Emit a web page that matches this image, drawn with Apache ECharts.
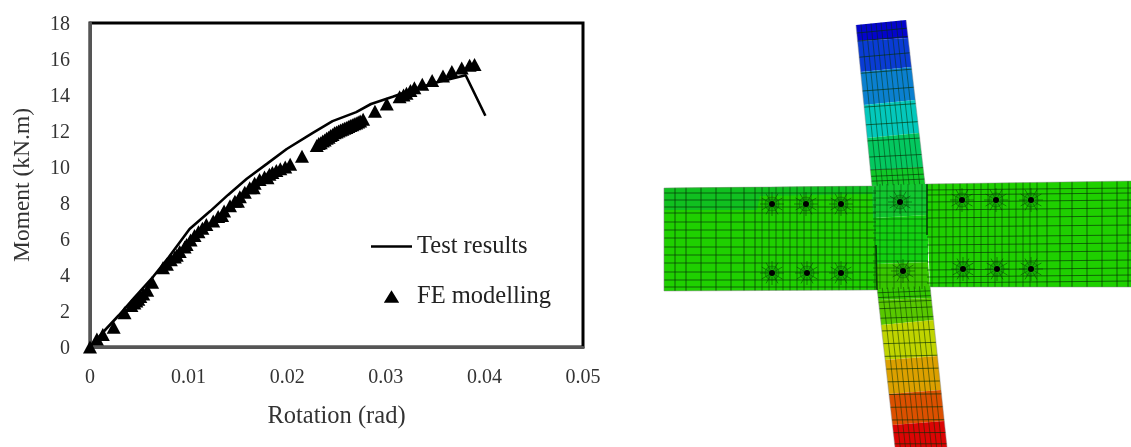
<!DOCTYPE html>
<html><head><meta charset="utf-8">
<style>html,body{margin:0;padding:0;background:#fff}#c{width:1131px;height:447px;filter:blur(0.35px)}</style>
<script src="https://cdn.jsdelivr.net/npm/echarts@6/dist/echarts.min.js"></script></head>
<body><div id="c"></div>
<script>
// ---- chart data ----
const xTicksMax = 0.05, yTicksMax = 18;
const testRotation = [0,0.0012,0.0029,0.0045,0.0064,0.008,0.0101,0.0122,0.014,0.0159,0.018,0.01995,0.0226,0.0246,0.027,0.0285,0.0307,0.033,0.0355,0.0381,0.0401];
const testMoment   = [0,0.75,1.75,2.75,3.9,5.0,6.55,7.55,8.45,9.35,10.2,11.0,11.9,12.55,13.05,13.5,13.9,14.35,14.75,15.1,12.85];
const feRotation = [0,0.0007,0.0013,0.0024,0.0035,0.0042,0.0045,0.0047,0.0049,0.0051,0.0054,0.0058,0.0063,0.0074,0.0078,0.0082,0.0086,0.0088,0.0091,0.0096,0.0098,0.0102,0.0106,0.011,0.0114,0.0118,0.0125,0.013,0.0134,0.0136,0.0142,0.0147,0.015,0.0152,0.0157,0.0162,0.0166,0.0167,0.0172,0.0177,0.018,0.0182,0.0185,0.0189,0.0193,0.0198,0.0203,0.0215,0.023,0.0232,0.0234,0.0236,0.0238,0.024,0.0242,0.0244,0.0246,0.0248,0.025,0.0252,0.0254,0.0256,0.0258,0.026,0.0262,0.0264,0.0266,0.0268,0.027,0.0272,0.0274,0.0277,0.0289,0.0301,0.0314,0.0318,0.0321,0.0325,0.0329,0.0337,0.0347,0.0358,0.0367,0.0377,0.0385,0.039];
const feMoment   = [0,0.45,0.7,1.1,1.9,2.3,2.45,2.55,2.65,2.8,2.95,3.15,3.6,4.4,4.6,4.85,5.0,5.1,5.3,5.55,5.7,5.95,6.2,6.4,6.6,6.8,7.0,7.25,7.3,7.55,7.85,8.1,8.1,8.35,8.6,8.85,8.85,9.1,9.3,9.45,9.4,9.6,9.7,9.8,9.9,10.0,10.15,10.6,11.2,11.3,11.35,11.45,11.5,11.6,11.65,11.75,11.8,11.9,11.95,12.0,12.05,12.1,12.15,12.2,12.25,12.3,12.35,12.4,12.45,12.5,12.55,12.65,13.1,13.5,13.9,14.0,14.1,14.25,14.4,14.6,14.8,15.05,15.3,15.5,15.65,15.7];
const xAxisTitle = 'Rotation (rad)', yAxisTitle = 'Moment (kN.m)';
const seriesNames = ['Test results','FE modelling'];

// ---- FE model illustration (drawing-space coordinates) ----
const upperBands = [['#0404cc',25,41,20,38],['#0a3cd4',41,72,38,67],['#0b80d0',72,105,67,100],['#04c8bc',105,138,100,133],['#04c860',138,170,133,167],['#10c828',170,186,167,184]];
const lowerBands = [['#34c800',288,300,286,298],['#58c800',300,325,298,320],['#c0d400',325,360,320,356],['#dca000',360,394,356,390],['#dc5000',394,425,390,421],['#dc0404',425,447,421,447]];
const upperEdges = {l:[856,25,872,186], r:[906,20,925,184]};
const lowerEdges = {l:[877,288,895,447], r:[930,286,947,447]};
const beamLeft  = [[664,188],[876,186],[877,290],[664,291]];
const beamLeftTop = [[664,188],[876,186],[876,194],[760,196],[757,210],[664,210]];
const beamRight = [[926,184],[1131,181],[1131,287],[930,287]];
const panelBands = [['#12c830',872,184,928,184,928,215,873,218],['#12d010',873,218,928,215,928,262,876,264],['#38c800',876,264,928,262,930,288,877,290]];
const leftVerticals = [675,686,701,716,731,744,755,762,769,776,783,790,797,804,811,818,825,832,839,846,853,860,867,875];
const leftHorizontals = [193,200,207,213,222,230,238,247,255,263,272,280,287];
const rightVerticals = [932,939,946,953,960,967,974,981,988,995,1002,1009,1016,1023,1030,1037,1047,1060,1072,1087,1102,1117,1128];
const rightHorizontals = [190,195,202,210,218,227,237,245,253,262,270,277,283];
const panelVerticals = [880,887,894,901,908,915,922];
const panelHorizontals = [191,198,205,212,219,226,233,240,247,254,261,268,275,282];
const upperCross = [0.05,0.10,0.20,0.30,0.41,0.51,0.62,0.72,0.82,0.9,0.94,0.97];
const lowerCross = [0.03,0.06,0.09,0.13,0.19,0.27,0.35,0.43,0.51,0.59,0.67,0.75,0.83,0.91,0.98];
const colLong = [0.1,0.2,0.3,0.4,0.5,0.6,0.7,0.8,0.9];
const joints = [[876,245,877,290],[927,184,927,235]];
const bolts = [[772,204],[806,204],[841,204],[772,273],[807,273],[841,273],[900,202],[903,271],[962,200],[996,200],[1031,200],[963,269],[997,269],[1031,269]];

const lerp=(a,b,t)=>a+(b-a)*t;
const polys=[], lines=[];
function addBands(bands,e){bands.forEach(b=>{
  const xl=y=>lerp(e.l[0],e.l[2],(y-e.l[1])/(e.l[3]-e.l[1]));
  const xr=y=>lerp(e.r[0],e.r[2],(y-e.r[1])/(e.r[3]-e.r[1]));
  polys.push({c:b[0],p:[[xl(b[1]),b[1]],[xr(b[3]),b[3]],[xr(b[4]),b[4]],[xl(b[2]),b[2]]]});
});}
function addColMesh(e,cross){
  cross.forEach(t=>lines.push({w:1,o:.65,p:[[lerp(e.l[0],e.l[2],t),lerp(e.l[1],e.l[3],t)],[lerp(e.r[0],e.r[2],t),lerp(e.r[1],e.r[3],t)]]}));
  colLong.forEach(s=>lines.push({w:1,o:.5,p:[[lerp(e.l[0],e.r[0],s),lerp(e.l[1],e.r[1],s)],[lerp(e.l[2],e.r[2],s),lerp(e.l[3],e.r[3],s)]]}));
  lines.push({w:1.2,o:.4,g:1,p:[[e.l[0],e.l[1]],[e.l[2],e.l[3]]]});
  lines.push({w:1.2,o:.4,g:1,p:[[e.r[0],e.r[1]],[e.r[2],e.r[3]]]});
}
addBands(upperBands,upperEdges); addBands(lowerBands,lowerEdges);
polys.push({c:'#1fd000',p:beamLeft},{c:'#10c020',p:beamLeftTop},{c:'#1fd000',p:beamRight});
panelBands.forEach(b=>polys.push({c:b[0],p:[[b[1],b[2]],[b[3],b[4]],[b[5],b[6]],[b[7],b[8]]]}));
addColMesh(upperEdges,upperCross); addColMesh(lowerEdges,lowerCross);
leftVerticals.forEach(x=>lines.push({w:1,o:x<760?.7:.6,p:[[x,lerp(188,186,(x-664)/212)],[x,lerp(291,290,(x-664)/212)]]}));
leftHorizontals.forEach(y=>lines.push({w:1,o:.65,p:[[664,y],[876,y]]}));
rightVerticals.forEach(x=>lines.push({w:1,o:x>1040?.7:.6,p:[[x,lerp(184,181,(x-926)/205)],[x,287]]}));
rightHorizontals.forEach(y=>lines.push({w:1,o:.65,p:[[927,y],[1131,y-2]]}));
panelVerticals.forEach(x=>lines.push({w:1,o:.5,p:[[x,184],[x,289]]}));
panelHorizontals.forEach(y=>lines.push({w:1,o:.5,p:[[873,y],[928,y]]}));
joints.forEach(j=>lines.push({w:1.6,o:.9,p:[[j[0],j[1]],[j[2],j[3]]]}));
[[664,188,876,186],[664,291,877,290],[926,184,1131,181],[930,287,1131,287],[664,188,664,291]].forEach(s=>lines.push({w:1.2,o:.45,g:1,p:[[s[0],s[1]],[s[2],s[3]]]}));
const rays=[0,1,2,3,4,5,6,7,8,9,10,11];

const chart=echarts.init(document.getElementById('c'),null,{renderer:'canvas'});
const serif='"Liberation Serif","Times New Roman",serif';
chart.setOption({
  animation:false,
  textStyle:{fontFamily:serif},
  grid:[
    {left:90,top:23,width:493,height:324,show:true,borderColor:'#000',borderWidth:3,backgroundColor:'#fff'},
    {left:655,top:0,width:476,height:447,show:false}
  ],
  xAxis:[
    {type:'value',gridIndex:0,min:0,max:xTicksMax,interval:0.01,splitLine:{show:false},axisTick:{show:false},
     axisLine:{show:true,lineStyle:{color:'#555',width:3}},
     axisLabel:{color:'#333',fontSize:20,margin:21,fontFamily:serif,showMinLabel:true,showMaxLabel:true,formatter:v=>String(+v.toFixed(2))},
     name:xAxisTitle,nameLocation:'middle',nameGap:57,nameTextStyle:{color:'#333',fontSize:24.5,fontFamily:serif}},
    {type:'value',gridIndex:1,min:655,max:1131,show:false}
  ],
  yAxis:[
    {type:'value',gridIndex:0,min:0,max:yTicksMax,interval:2,splitLine:{show:false},axisTick:{show:false},
     axisLine:{show:true,lineStyle:{color:'#555',width:3}},
     axisLabel:{color:'#333',fontSize:20,margin:20,verticalAlign:'top',padding:[-8,0,0,0],fontFamily:serif},
     name:yAxisTitle,nameLocation:'middle',nameGap:55,nameTextStyle:{color:'#333',fontSize:23.5,fontFamily:serif}},
    {type:'value',gridIndex:1,min:0,max:447,inverse:true,show:false}
  ],
  legend:{left:366,top:229,orient:'vertical',itemWidth:41,itemHeight:14,itemGap:25,
    textStyle:{color:'#222',fontSize:24.5,fontFamily:serif},
    data:[{name:seriesNames[0],icon:'path://M0,6L40,6L40,8.4L0,8.4Z'},{name:seriesNames[1],icon:'path://M0,7L0,7.01M12.5,13L20,1L27.5,13ZM40,7L40,7.01'}],
    selectedMode:false},
  series:[
    {type:'scatter',name:seriesNames[1],data:feRotation.map((x,i)=>[x,feMoment[i]]),symbol:'triangle',symbolSize:[14,13],
     itemStyle:{color:'#000',opacity:1},z:3},
    {type:'line',name:seriesNames[0],data:testRotation.map((x,i)=>[x,testMoment[i]]),showSymbol:false,symbol:'none',
     lineStyle:{color:'#000',width:2.6},itemStyle:{color:'#000'},z:4},
    {type:'custom',xAxisIndex:1,yAxisIndex:1,data:polys.map((_,i)=>[i]),silent:true,
     renderItem:(p,api)=>({type:'polygon',shape:{points:polys[p.dataIndex].p.map(q=>api.coord(q))},style:{fill:polys[p.dataIndex].c}}),z:2},
    {type:'custom',xAxisIndex:1,yAxisIndex:1,data:lines.map((_,i)=>[i]),silent:true,
     renderItem:(p,api)=>{const l=lines[p.dataIndex];const a=api.coord(l.p[0]),b=api.coord(l.p[1]);
       return {type:'line',shape:{x1:a[0],y1:a[1],x2:b[0],y2:b[1]},style:{stroke:l.g?'#808080':'#063006',lineWidth:l.w,opacity:l.o}};},z:3},
    {type:'custom',xAxisIndex:1,yAxisIndex:1,data:bolts,silent:true,
     renderItem:(p,api)=>{const c=api.coord([api.value(0),api.value(1)]);const kids=[];
       rays.forEach(k=>{const t=k*Math.PI/6;kids.push({type:'line',shape:{x1:c[0]+4*Math.cos(t),y1:c[1]+4*Math.sin(t),x2:c[0]+12*Math.cos(t),y2:c[1]+12*Math.sin(t)},style:{stroke:'#063006',lineWidth:1,opacity:.5}});});
       kids.push({type:'circle',shape:{cx:c[0],cy:c[1],r:7},style:{fill:'#0a800a',opacity:.35,stroke:'#063006',lineWidth:1}});
       kids.push({type:'circle',shape:{cx:c[0],cy:c[1],r:3},style:{fill:'#000'}});
       return {type:'group',children:kids};},z:4}
  ]
});
</script></body></html>
